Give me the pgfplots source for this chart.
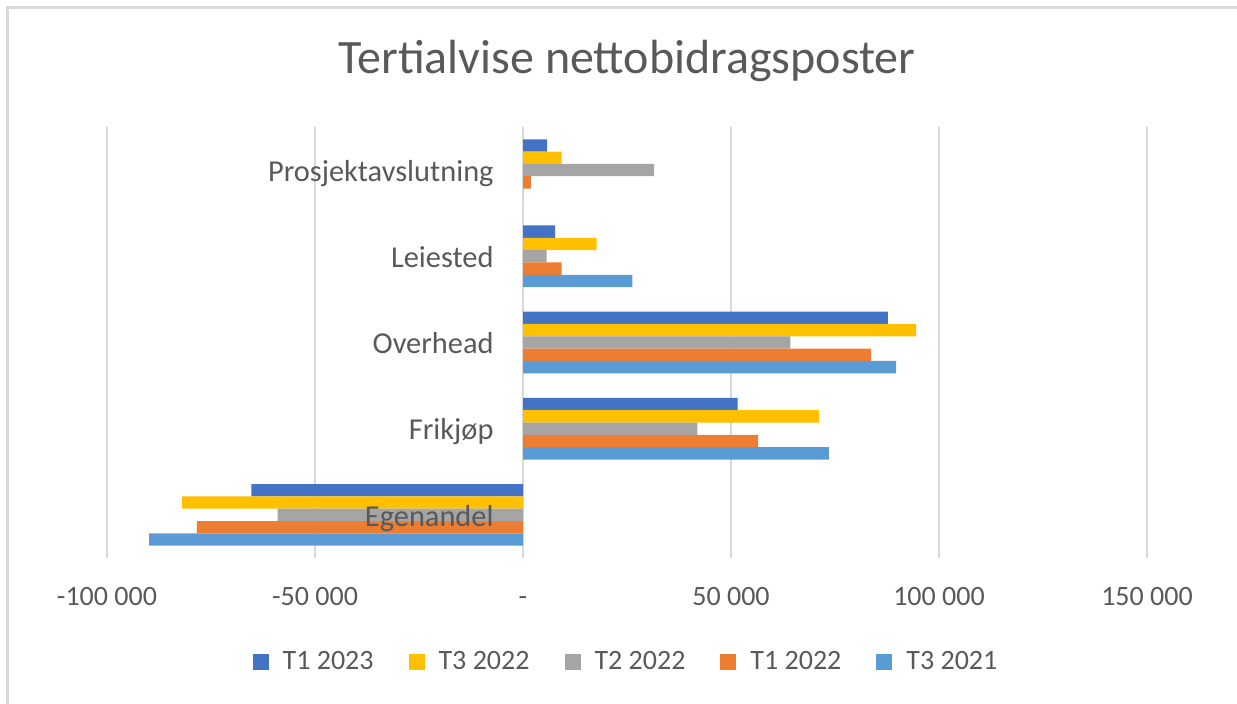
\documentclass[border=0pt]{standalone}
\usepackage{pgfplots}
\pgfplotsset{compat=1.18}
\usepackage{fontspec}
\setmainfont{Carlito}
\definecolor{c1}{HTML}{4472C4}
\definecolor{c2}{HTML}{FFC000}
\definecolor{c3}{HTML}{A5A5A5}
\definecolor{c4}{HTML}{ED7D31}
\definecolor{c5}{HTML}{5B9BD5}
\definecolor{txt}{HTML}{595959}
\definecolor{grd}{HTML}{D9D9D9}
\pgfplotsset{
  layers/labelsontop/.define layer set={
    axis background,axis grid,axis ticks,axis lines,pre main,main,axis tick labels,axis descriptions,axis foreground
  }{
    grid style={/pgfplots/on layer=axis grid},
    tick style={/pgfplots/on layer=axis ticks},
    axis line style={/pgfplots/on layer=axis lines},
    label style={/pgfplots/on layer=axis descriptions},
    legend style={/pgfplots/on layer=axis descriptions},
    title style={/pgfplots/on layer=axis descriptions},
    ticklabel style={/pgfplots/on layer=axis tick labels},
  },
}
\begin{document}
\begin{tikzpicture}
\begin{axis}[
  set layers=labelsontop,
  at={(53.5pt,73pt)}, anchor=south west,
  scale only axis, width=520pt, height=215.5pt,
  xmin=-100000, xmax=150000, ymin=-0.5, ymax=4.5,
  scaled x ticks=false,
  xbar, bar width=0.143,
  axis line style={draw=none},
  tick style={draw=none},
  xmajorgrids, grid style={grd, line width=1pt},
  xtick={-100000,-50000,0,50000,100000,150000},
  xticklabels={-100 000,-50 000,-,50 000,100 000,150 000},
  ytick={0,1,2,3,4},
  yticklabels={Egenandel,Frikjøp,Overhead,Leiested,Prosjektavslutning},
  xticklabel style={anchor=base, inner sep=0pt, yshift=-24pt, font=\fontsize{14}{17}\selectfont, text=txt},
  yticklabel style={anchor=base east, inner sep=0pt, xshift=197.75pt, yshift=-5.6pt, font=\fontsize{15.2}{18}\selectfont, text=txt},
  title={Tertialvise nettobidragsposter},
  title style={at={(0.5,1)}, anchor=base, yshift=20.5pt, font=\fontsize{24}{29}\selectfont, text=txt},
  legend columns=5,
  legend style={at={(0.5,-0.242)}, anchor=center, draw=none, fill=none, font=\fontsize{14}{17}\selectfont, text=txt,
    /tikz/every odd column/.append style={column sep=5pt},
    /tikz/every even column/.append style={column sep=15.5pt}},
  legend image code/.code={\path[#1] (0pt,-4pt) rectangle (8pt,4pt);},
]
\addplot[fill=c1, draw=none, bar shift=0.286] coordinates {(-65300,0) (51600,1) (87700,2) (7700,3) (5800,4)};
\addlegendentry{T1 2023}
\addplot[fill=c2, draw=none, bar shift=0.143] coordinates {(-82000,0) (71100,1) (94500,2) (17700,3) (9300,4)};
\addlegendentry{T3 2022}
\addplot[fill=c3, draw=none, bar shift=0] coordinates {(-59000,0) (41900,1) (64300,2) (5700,3) (31500,4)};
\addlegendentry{T2 2022}
\addplot[fill=c4, draw=none, bar shift=-0.143] coordinates {(-78400,0) (56500,1) (83700,2) (9300,3) (1900,4)};
\addlegendentry{T1 2022}
\addplot[fill=c5, draw=none, bar shift=-0.286] coordinates {(-89900,0) (73500,1) (89700,2) (26300,3) (0,4)};
\addlegendentry{T3 2021}
\end{axis}
\pgfresetboundingbox
\path[use as bounding box] (0,0) rectangle (618.5pt,352pt);
\draw[grd, line width=1.5pt] (3.75pt,-1pt) -- (3.75pt,348.25pt) -- (620pt,348.25pt);
\end{tikzpicture}
\end{document}
